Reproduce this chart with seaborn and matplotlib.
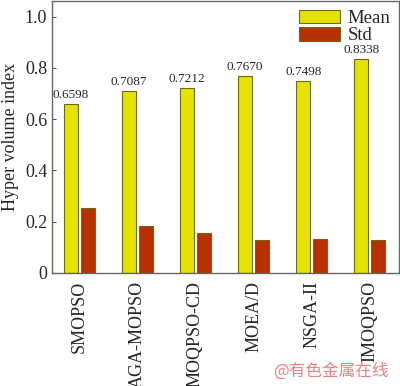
import numpy as np
import pandas as pd
import matplotlib
matplotlib.use("Agg")
import matplotlib.pyplot as plt
import seaborn as sns

algorithms = ["SMOPSO", "AGA-MOPSO", "MOQPSO-CD", "MOEA/D", "NSGA-II", "IMOQPSO"]
mean_vals = [0.6598, 0.7087, 0.7212, 0.7670, 0.7498, 0.8338]
std_vals = [0.255, 0.183, 0.154, 0.130, 0.133, 0.130]

df = pd.DataFrame({
    "algorithm": algorithms * 2,
    "stat": ["Mean"] * len(algorithms) + ["Std"] * len(algorithms),
    "value": mean_vals + std_vals,
})

sns.set_style("ticks")
plt.rcParams["font.family"] = ["Liberation Serif", "DejaVu Serif"]

fig = plt.figure(figsize=(4.0, 3.86), dpi=100)
ax = fig.add_axes([0.13, 0.293, 0.867, 0.704])

sns.barplot(data=df, x="algorithm", y="value", hue="stat",
            palette={"Mean": "#e6e200", "Std": "#b83000"}, saturation=1,
            width=0.58, gap=0.17, edgecolor="#6e6a10", linewidth=0.8,
            ax=ax)

# value labels on the mean bars
ax.bar_label(ax.containers[0], fmt="%.4f", fontsize=9.5, padding=2)

ax.set_ylim(0, 1.06)
ax.set_xlim(-0.47, 5.5)
ax.set_yticks([0, 0.2, 0.4, 0.6, 0.8, 1.0])
ax.set_yticklabels(["0", "0.2", "0.4", "0.6", "0.8", "1.0"], fontsize=13)
ax.set_xticks(range(len(algorithms)))
ax.set_xticklabels(algorithms, rotation=90, fontsize=13)
ax.tick_params(axis="y", direction="in", length=3, color="#555555")
ax.tick_params(axis="x", length=0, pad=6)
ax.set_xlabel("")
ax.set_ylabel("Hyper volume index", fontsize=13)
for sp in ax.spines.values():
    sp.set_color("#666666")
    sp.set_linewidth(1.0)

leg = ax.legend(loc="upper right", frameon=False, fontsize=13.5,
                handlelength=2.2, handleheight=0.75, borderaxespad=0.25,
                borderpad=0.2, labelspacing=0.0, handletextpad=0.4)

fig.text(0.972, 0.015, "@有色金属在线", ha="right", va="bottom",
         fontsize=12, color="#ec8088", family=["Noto Sans CJK SC", "DejaVu Sans"])

fig.savefig("out.png", dpi=100)
